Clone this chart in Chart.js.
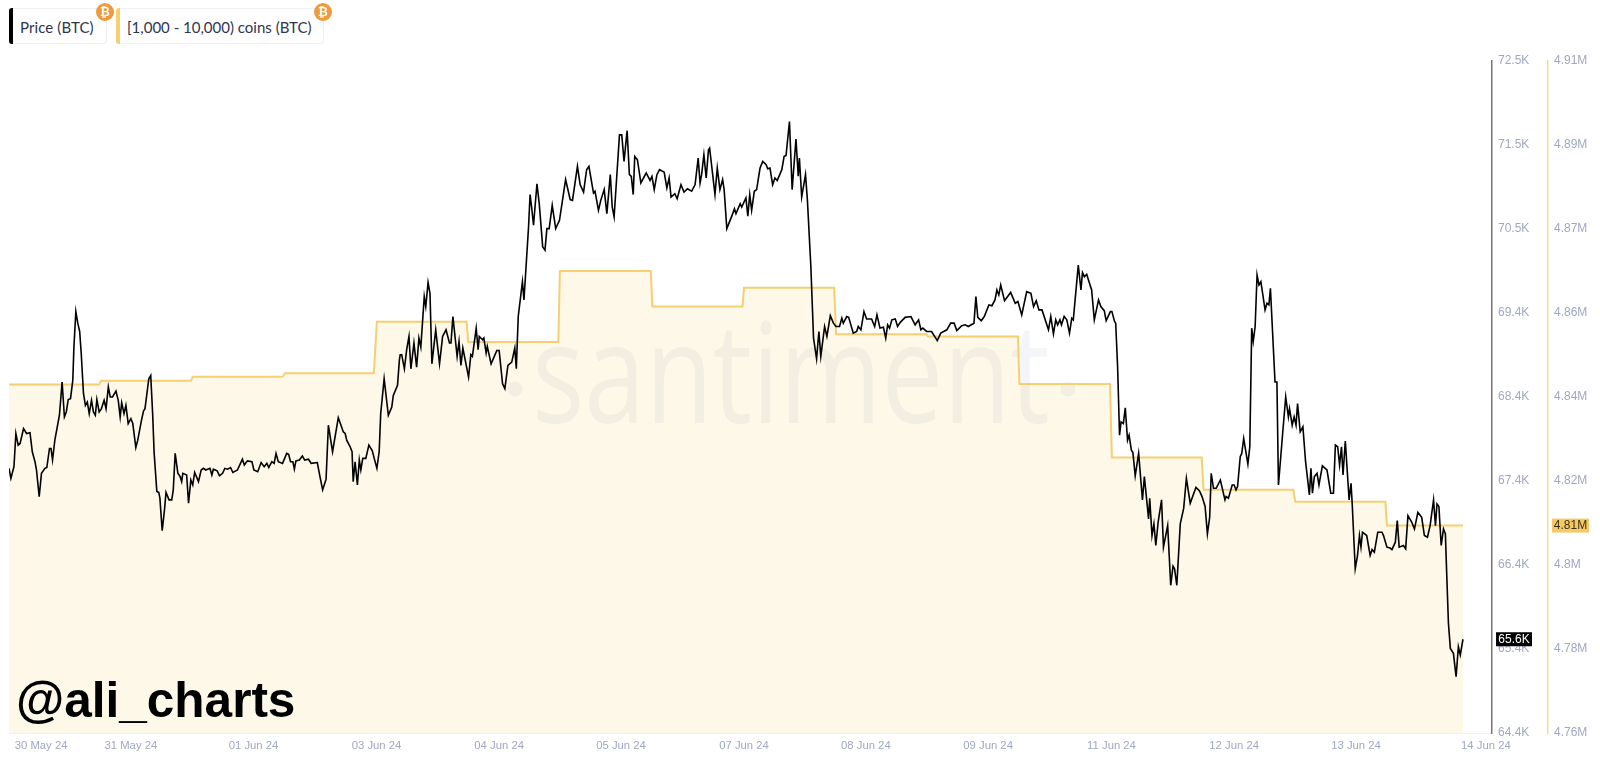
<!DOCTYPE html>
<html>
<head>
<meta charset="utf-8">
<title>Price vs [1,000 - 10,000) coins (BTC)</title>
<script src="https://cdn.jsdelivr.net/npm/chart.js@4/dist/chart.umd.min.js"></script>
<style>
  html, body { margin: 0; padding: 0; background: #fff; }
  #wrap { position: relative; width: 1600px; height: 761px; overflow: hidden; }
  #chart { position: absolute; left: 0; top: 0; }
  .chip {
    position: absolute; top: 8px; height: 36px; box-sizing: border-box;
    border: 1px solid #eef0f5; border-left: none; border-radius: 4px; background: #fff;
    font: 15px/36px Lato, sans-serif; color: #2f3550; white-space: nowrap;
  }
  .chip .bar { position: absolute; left: 0; top: -1px; width: 4px; height: 36px; border-radius: 3px 0 0 3px; }
  .chip .coin {
    position: absolute; top: -6px; width: 18px; height: 18px; border-radius: 50%;
    background: #ef9a3c; color: #fff; text-align: center;
    font: bold 12px/18px "DejaVu Sans", sans-serif;
  }
</style>
</head>
<body>
<div id="wrap">
  <canvas id="chart" width="1600" height="761"></canvas>
  <div class="chip" style="left:9px;width:98px;padding-left:11px;letter-spacing:0.1px"><span class="bar" style="background:#000"></span>Price (BTC)<span class="coin" style="left:87px">₿</span></div>
  <div class="chip" style="left:116px;width:208px;padding-left:11px"><span class="bar" style="background:#f5cf70"></span>[1,000 - 10,000) coins (BTC)<span class="coin" style="left:198px">₿</span></div>
</div>
<script>
// hours since the left edge of the series
const priceHours = [
  0, 0.5, 1.3, 1.8, 2.4, 2.9, 3.8, 4.6, 5.5, 6.1, 6.8, 7.2, 7.9, 8.5, 9.4, 9.9, 10.6, 11.0, 11.4, 12.0,
  13.2, 13.9, 14.5, 15.0, 15.5, 16.1, 16.7, 17.0, 17.5, 18.0, 18.5, 18.9, 19.5, 20.0, 20.5, 21.0, 21.6, 22.1, 22.6, 23.0,
  23.6, 24.2, 24.9, 25.4, 26.0, 26.5, 27.1, 28.0, 28.6, 29.1, 29.5, 30.1, 30.6, 31.2, 31.9, 32.4, 33.2, 33.7, 34.6, 35.2,
  35.6, 36.1, 36.6, 37.1, 37.6, 38.0, 38.7, 39.2, 39.5, 40.1, 40.7, 41.1, 41.9, 42.6, 43.0, 43.5, 44.2, 44.8, 45.2, 45.5,
  46.5, 47.0, 47.6, 48.1, 48.6, 49.6, 50.3, 50.9, 51.5, 52.6, 53.1, 53.5, 54.5, 55.1, 55.9, 56.5, 57.2, 58.0, 58.6, 59.8,
  60.5, 61.1, 61.6, 62.4, 63.6, 64.1, 65.1, 66.0, 66.8, 67.5, 68.0, 68.8, 69.4, 69.9, 70.5, 71.6, 72.7, 73.2, 73.7, 74.3,
  74.7, 75.1, 76.0, 76.8, 77.4, 78.4, 79.1, 80.7, 81.4, 82.1, 83.0, 83.6, 84.7, 86.2, 86.9, 87.5, 88.0, 88.4, 89.3, 89.8,
  90.1, 90.6, 91.2, 91.7, 92.1, 92.6, 93.4, 94.2, 95.1, 95.6, 96.3, 96.9, 97.3, 98.2, 99.3, 100.2, 100.6, 101.7, 102.2, 102.4,
  102.8, 103.5, 104.1, 104.7, 105.2, 106.0, 106.7, 107.3, 107.8, 108.7, 109.1, 109.7, 110.2, 110.7, 111.7, 112.7, 113.5, 114.4, 115.3, 115.7,
  116.2, 117.3, 117.8, 118.3, 118.8, 120.3, 120.9, 121.3, 122.3, 122.8, 123.1, 124.0, 124.3, 124.9, 125.2, 126.2, 127.7, 128.3, 129.2, 129.8,
  130.6, 131.6, 132.4, 132.8, 133.3, 134.4, 134.8, 136.0, 136.4, 136.8, 137.3, 138.2, 138.8, 139.7, 140.3, 140.8, 141.4, 142.2, 143.1, 144.1,
  145.7, 146.9, 147.5, 148.8, 149.5, 150.4, 151.2, 151.8, 153.0, 153.4, 154.3, 154.9, 155.8, 156.5, 157.4, 157.9, 158.4, 159.8, 160.4, 161.0,
  161.8, 162.4, 162.9, 163.4, 163.8, 164.5, 165.4, 166.8, 167.8, 168.3, 168.9, 169.6, 170.3, 171.5, 172.2, 172.8, 173.3, 174.3, 174.9, 175.9,
  176.7, 177.6, 178.7, 179.6, 180.4, 180.9, 181.3, 181.9, 182.5, 183.1, 183.4, 184.8, 185.4, 186.1, 186.8, 187.2, 187.9, 189.2, 189.9, 190.3,
  191.4, 191.8, 192.9, 193.4, 193.9, 194.4, 195.1, 195.7, 196.6, 197.3, 198.2, 198.6, 199.2, 199.9, 200.5, 201.1, 202.3, 202.9, 203.4, 204.3,
  205.0, 206.0, 206.6, 206.9, 207.5, 208.5, 209.0, 209.9, 210.6, 211.4, 212.0, 212.5, 213.5, 214.1, 215.0, 215.8, 216.5, 217.4, 218.0, 218.4,
  219.3, 219.8, 221.0, 221.9, 222.3, 223.0, 223.8, 224.5, 225.8, 226.6, 227.2, 228.0, 228.9, 229.5, 230.0, 230.5, 231.1, 232.0, 232.6, 233.3,
  234.6, 236.1, 237.2, 238.1, 238.7, 239.2, 240.2, 241.5, 243.0, 243.9, 245.5, 246.5, 247.4, 248.1, 249.4, 250.3, 251.1, 252.6, 253.1, 253.6,
  254.5, 255.3, 256.5, 257.3, 258.1, 258.6, 259.1, 259.6, 260.6, 262.2, 263.4, 264.1, 265.1, 266.4, 267.5, 268.2, 268.9, 269.6, 270.4, 272.1,
  272.7, 273.4, 274.0, 274.5, 275.1, 275.5, 276.2, 276.9, 277.6, 278.2, 278.6, 279.9, 280.6, 281.0, 281.5, 282.1, 283.4, 284.1, 285.2, 285.8,
  286.7, 287.2, 288.3, 288.7, 289.4, 289.7, 290.2, 290.7, 291.1, 291.7, 292.2, 292.8, 293.2, 293.8, 294.2, 294.8, 295.7, 296.7, 297.2, 298.3,
  298.6, 299.2, 299.7, 300.2, 300.8, 301.7, 302.2, 303.3, 304.1, 304.7, 305.1, 305.7, 306.6, 307.5, 308.2, 309.2, 310.7, 311.6, 312.3, 313.1,
  313.7, 314.3, 314.7, 315.3, 316.0, 317.1, 318.3, 318.6, 319.2, 320.2, 320.7, 321.2, 321.6, 322.3, 322.7, 323.2, 324.3, 324.8, 325.3, 325.7,
  326.2, 326.7, 327.2, 327.7, 328.8, 329.3, 329.8, 330.2, 331.4, 331.9, 332.3, 333.4, 334.2, 334.9, 335.2, 335.9, 336.4, 336.9, 337.3, 338.0,
  338.7, 339.4, 340.4, 340.8, 341.2, 341.7, 342.4, 342.9, 343.8, 345.0, 346.0, 346.7, 347.2, 347.8, 348.3, 348.8, 349.2, 349.8, 350.8, 351.3,
  351.6, 352.4, 353.0, 353.5, 353.9, 354.3, 355.4, 356.3, 356.8, 357.4, 358.3, 359.4, 359.8, 360.7, 361.5, 362.0, 362.9, 363.4, 363.9, 365.0,
  365.6, 366.2, 367.2, 367.9, 368.8, 369.8, 370.5, 371.3, 372.0, 372.9, 373.4, 373.8, 374.3, 374.9, 375.5, 376.0, 376.4, 376.8, 377.3, 378.1,
  378.8, 379.4, 379.9, 380.6
];
// BTC price in thousands of USD
const priceValues = [
  67.59, 67.47, 67.61, 68.01, 67.87, 67.89, 68.07, 68.01, 68.02, 67.79, 67.67, 67.57, 67.25, 67.53, 67.59, 67.60, 67.83, 67.83, 67.69, 67.93,
  68.23, 68.63, 68.21, 68.27, 68.42, 68.43, 68.65, 69.06, 69.48, 69.34, 69.24, 68.98, 68.49, 68.35, 68.39, 68.25, 68.41, 68.27, 68.23, 68.42,
  68.27, 68.31, 68.41, 68.31, 68.57, 68.45, 68.45, 68.52, 68.41, 68.21, 68.38, 68.25, 68.35, 68.13, 68.19, 68.13, 67.84, 67.93, 68.15, 68.28,
  68.31, 68.49, 68.67, 68.71, 68.25, 67.77, 67.31, 67.30, 67.23, 66.84, 67.09, 67.30, 67.21, 67.21, 67.33, 67.77, 67.53, 67.49, 67.43, 67.53,
  67.51, 67.17, 67.45, 67.39, 67.54, 67.43, 67.57, 67.59, 67.57, 67.59, 67.51, 67.58, 67.56, 67.50, 67.53, 67.59, 67.58, 67.60, 67.54, 67.57,
  67.64, 67.70, 67.63, 67.68, 67.67, 67.57, 67.55, 67.66, 67.61, 67.65, 67.60, 67.67, 67.65, 67.77, 67.67, 67.65, 67.77, 67.76, 67.67, 67.67,
  67.58, 67.68, 67.69, 67.74, 67.69, 67.70, 67.65, 67.66, 67.49, 67.33, 67.46, 68.11, 67.79, 68.20, 68.11, 68.03, 68.01, 67.93, 67.85, 67.79,
  67.43, 67.67, 67.39, 67.69, 67.57, 67.71, 67.71, 67.87, 67.80, 67.71, 67.59, 67.79, 68.25, 68.67, 68.23, 68.33, 68.47, 68.59, 68.90, 68.96,
  68.96, 68.79, 69.02, 69.18, 68.79, 69.10, 68.81, 69.16, 69.05, 69.66, 69.54, 69.83, 69.70, 68.85, 69.26, 68.85, 69.18, 69.26, 69.10, 69.10,
  69.42, 68.94, 69.12, 68.83, 69.04, 68.69, 68.96, 68.94, 69.28, 69.02, 69.18, 69.14, 69.16, 68.98, 69.06, 68.85, 69.01, 69.01, 68.61, 68.55,
  68.83, 68.87, 69.04, 68.79, 69.42, 69.84, 69.62, 70.50, 70.89, 70.74, 70.52, 71.02, 70.78, 70.26, 70.22, 70.48, 70.48, 70.76, 70.48, 70.58,
  71.07, 70.83, 70.82, 71.23, 71.01, 70.92, 71.19, 71.23, 70.91, 70.93, 70.70, 70.82, 70.95, 70.66, 71.13, 70.74, 70.62, 71.61, 71.61, 71.29,
  71.66, 71.13, 71.11, 70.89, 71.35, 71.31, 71.03, 71.15, 71.06, 71.11, 70.95, 71.13, 71.19, 71.16, 70.97, 71.09, 70.86, 70.90, 70.84, 71.01,
  70.92, 70.96, 70.93, 71.01, 71.33, 71.03, 71.13, 71.37, 71.09, 71.43, 71.45, 70.89, 71.21, 70.95, 71.07, 70.95, 70.48, 70.63, 70.72, 70.66,
  70.78, 70.74, 70.85, 70.63, 70.89, 70.70, 70.93, 70.95, 71.21, 71.29, 71.25, 71.20, 71.21, 71.01, 71.09, 71.06, 71.19, 71.35, 71.36, 71.77,
  70.95, 71.56, 71.11, 71.33, 70.86, 71.13, 70.82, 70.02, 69.16, 68.91, 69.24, 68.94, 69.30, 69.18, 69.43, 69.34, 69.30, 69.30, 69.40, 69.34,
  69.42, 69.41, 69.22, 69.24, 69.30, 69.26, 69.48, 69.39, 69.39, 69.30, 69.44, 69.28, 69.29, 69.16, 69.32, 69.28, 69.38, 69.39, 69.30, 69.35,
  69.41, 69.42, 69.32, 69.38, 69.26, 69.28, 69.24, 69.24, 69.13, 69.22, 69.26, 69.34, 69.34, 69.25, 69.31, 69.32, 69.30, 69.34, 69.66, 69.41,
  69.37, 69.42, 69.56, 69.55, 69.62, 69.74, 69.68, 69.80, 69.61, 69.71, 69.58, 69.60, 69.44, 69.72, 69.70, 69.54, 69.61, 69.50, 69.50, 69.26,
  69.42, 69.21, 69.38, 69.32, 69.38, 69.32, 69.42, 69.38, 69.22, 69.40, 69.38, 70.04, 69.74, 69.95, 69.90, 69.93, 69.74, 69.38, 69.62, 69.54,
  69.49, 69.37, 69.48, 69.48, 69.36, 69.34, 68.81, 67.99, 68.15, 68.13, 68.32, 67.93, 67.99, 67.81, 67.78, 67.50, 67.77, 67.21, 67.49, 66.98,
  67.23, 66.78, 66.92, 66.66, 66.94, 67.21, 66.64, 66.90, 66.18, 66.41, 66.38, 66.18, 66.92, 67.11, 67.47, 67.17, 67.36, 67.32, 67.25, 67.13,
  66.80, 67.00, 67.53, 67.35, 67.35, 67.45, 67.21, 67.25, 67.23, 67.39, 67.39, 67.33, 67.37, 67.73, 67.77, 67.95, 67.64, 67.85, 69.28, 69.12,
  69.30, 69.92, 69.80, 69.84, 69.50, 69.58, 69.56, 69.76, 68.63, 68.63, 67.39, 68.01, 68.45, 68.21, 68.31, 68.11, 68.21, 68.11, 68.37, 68.03,
  68.09, 67.67, 67.27, 67.59, 67.29, 67.49, 67.53, 67.39, 67.62, 67.57, 67.29, 67.29, 67.87, 67.85, 67.63, 67.85, 67.51, 67.92, 67.21, 67.41,
  67.17, 66.38, 66.54, 66.78, 66.64, 66.82, 66.78, 66.54, 66.61, 66.58, 66.82, 66.82, 66.78, 66.64, 66.63, 66.61, 66.70, 66.96, 66.64, 66.66,
  66.62, 67.02, 66.94, 66.86, 67.06, 67.00, 66.78, 66.76, 66.90, 67.21, 66.90, 67.16, 67.13, 66.66, 66.86, 66.80, 66.24, 65.72, 65.42, 65.36,
  65.08, 65.44, 65.34, 65.53
];
// supply held by [1,000 - 10,000) coin wallets, in millions of BTC
const holdersHours = [0, 23.6, 24.1, 47.6, 48.1, 71.6, 72.3, 95.5, 96.3, 119.8, 120.2, 143.8, 144.2, 168.0, 168.4, 192.0, 192.4, 216.0, 216.5, 240.2, 240.6, 264.1, 264.5, 288.2, 288.7, 312.2, 312.7, 336.2, 336.7, 360.3, 360.7, 380.6];
const holdersValues = [4.8378, 4.8378, 4.8386, 4.8386, 4.8395, 4.8395, 4.8403, 4.8403, 4.8518, 4.8518, 4.8473, 4.8473, 4.8631, 4.8631, 4.8552, 4.8552, 4.8594, 4.8594, 4.849, 4.849, 4.8485, 4.8485, 4.8379, 4.8379, 4.8215, 4.8215, 4.8143, 4.8143, 4.8116, 4.8116, 4.8063, 4.8063];

const dateTickHours = [8.4, 31.9, 64.0, 96.2, 128.3, 160.2, 192.4, 224.3, 256.3, 288.6, 320.7, 352.6, 386.6];
const dateTickLabels = ["30 May 24", "31 May 24", "01 Jun 24", "03 Jun 24", "04 Jun 24", "05 Jun 24", "07 Jun 24", "08 Jun 24", "09 Jun 24", "11 Jun 24", "12 Jun 24", "13 Jun 24", "14 Jun 24"];
const priceTickLabels = ["64.4K", "65.4K", "66.4K", "67.4K", "68.4K", "69.4K", "70.5K", "71.5K", "72.5K"];
const holdersTickLabels = ["4.76M", "4.78M", "4.8M", "4.82M", "4.84M", "4.86M", "4.87M", "4.89M", "4.91M"];

const lastPriceLabel = "65.6K";
const lastHoldersLabel = "4.81M";

const TICK_COLOR = "#9fa8c3";
const GOLD = "#f5cf70";

// evenly spaced ticks between the axis ends, like the source chart
function evenTicks(scale) {
  const step = (scale.max - scale.min) / 8;
  scale.ticks = [];
  for (let i = 0; i <= 8; i++) {
    scale.ticks.push({ value: scale.min + i * step });
  }
}

// watermark sits on top of the area fill, under the lines
const watermark = {
  id: "watermark",
  beforeDatasetsDraw(chart) {
    const ctx = chart.ctx;
    ctx.save();
    ctx.translate(532, 423);
    ctx.scale(0.785, 1);
    ctx.font = '140px "Open Sans"';
    ctx.fillStyle = "rgba(120,125,165,0.08)";
    ctx.textBaseline = "alphabetic";
    ctx.fillText("santiment", 0, 0);
    ctx.restore();
    ctx.save();
    ctx.fillStyle = "rgba(120,125,165,0.08)";
    ctx.beginPath();
    ctx.arc(515, 389, 7.5, 0, Math.PI * 2);
    ctx.closePath();
    ctx.arc(1068, 389, 7.5, 0, Math.PI * 2);
    ctx.fill();
    ctx.restore();
  },
};

function badge(ctx, text, x, y, w, bg, fg) {
  ctx.fillStyle = bg;
  ctx.fillRect(x, y - 7, w, 14);
  ctx.fillStyle = fg;
  ctx.font = "12px 'Liberation Sans'";
  ctx.textAlign = "center";
  ctx.textBaseline = "middle";
  ctx.fillText(text, x + w / 2, y + 0.5);
}

const overlays = {
  id: "overlays",
  afterDraw(chart) {
    const ctx = chart.ctx;
    ctx.save();
    const priceY = chart.scales.price.getPixelForValue(priceValues[priceValues.length - 1]);
    const holdersY = chart.scales.holders.getPixelForValue(holdersValues[holdersValues.length - 1]);
    badge(ctx, lastPriceLabel, 1496, priceY, 36, "#000", "#fff");
    badge(ctx, lastHoldersLabel, 1552, holdersY, 37, "#f6c962", "#3a3320");

    ctx.fillStyle = "#000";
    ctx.font = "bold 49.5px 'Liberation Sans'";
    ctx.textAlign = "left";
    ctx.textBaseline = "alphabetic";
    ctx.fillText("@ali_charts", 16, 717);
    ctx.restore();
  },
};

new Chart(document.getElementById("chart"), {
  type: "line",
  data: {
    datasets: [
      {
        label: "Price (BTC)",
        data: priceHours.map((h, i) => ({ x: h, y: priceValues[i] })),
        yAxisID: "price",
        borderColor: "#000",
        borderWidth: 1.6,
        pointRadius: 0,
        tension: 0,
        fill: false,
      },
      {
        label: "[1,000 - 10,000) coins (BTC)",
        data: holdersHours.map((h, i) => ({ x: h, y: holdersValues[i] })),
        yAxisID: "holders",
        borderColor: GOLD,
        borderWidth: 2,
        backgroundColor: "#fef8e8",
        pointRadius: 0,
        tension: 0,
        fill: "start",
      },
    ],
  },
  options: {
    responsive: false,
    animation: false,
    layout: { padding: { left: 9, top: 61, right: 0, bottom: 0 } },
    plugins: {
      legend: { display: false },
      tooltip: { enabled: false },
      filler: { drawTime: "beforeDatasetsDraw" },
    },
    scales: {
      x: {
        type: "linear",
        min: 0,
        max: 388.2,
        grid: { display: false, drawTicks: false },
        border: { color: "#eef0f5", width: 1 },
        afterBuildTicks(scale) {
          scale.ticks = dateTickHours.map((h) => ({ value: h }));
        },
        afterFit(scale) {
          scale.height = 28;
        },
        ticks: {
          autoSkip: false,
          maxRotation: 0,
          padding: 6,
          color: TICK_COLOR,
          font: { family: "Liberation Sans", size: 11.3 },
          callback: (v, i) => dateTickLabels[i],
        },
      },
      price: {
        position: "right",
        min: 64.4,
        max: 72.5,
        grid: { display: false, drawTicks: false },
        border: { color: "#777", width: 1.5 },
        afterBuildTicks: evenTicks,
        afterFit(scale) {
          scale.width = 56;
        },
        ticks: {
          autoSkip: false,
          padding: 6,
          color: TICK_COLOR,
          font: { family: "Liberation Sans", size: 12 },
          callback: (v, i) => priceTickLabels[i],
        },
      },
      holders: {
        position: "right",
        min: 4.76,
        max: 4.91,
        grid: { display: false, drawTicks: false },
        border: { color: "#f5dc94", width: 1.5 },
        afterBuildTicks: evenTicks,
        afterFit(scale) {
          scale.width = 52;
        },
        ticks: {
          autoSkip: false,
          padding: 6,
          color: TICK_COLOR,
          font: { family: "Liberation Sans", size: 12 },
          callback: (v, i) => holdersTickLabels[i],
        },
      },
    },
  },
  plugins: [watermark, overlays],
});
</script>
</body>
</html>
